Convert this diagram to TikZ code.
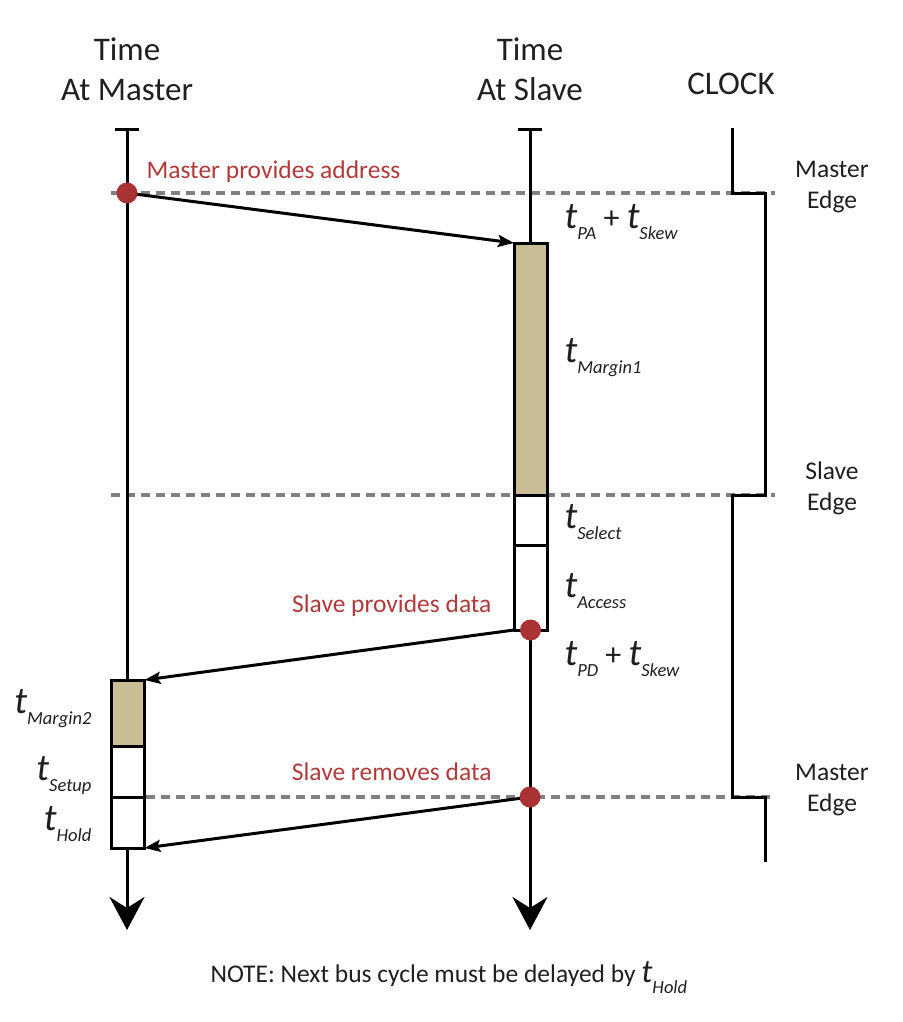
\documentclass[tikz,border=0pt]{standalone}
\usepackage{fontspec}
\setmainfont{Carlito}
\usetikzlibrary{arrows.meta,positioning}
\definecolor{sigred}{RGB}{176,58,58}
\definecolor{dotred}{RGB}{168,50,52}
\definecolor{margintan}{RGB}{201,189,149}
\definecolor{guidegray}{RGB}{128,128,128}
\newcommand{\tlab}[2][38]{{\fontsize{#1}{#1}\selectfont\itshape t}\raisebox{-11pt}{\fontsize{18.5}{18.5}\selectfont\itshape #2}}
\begin{document}
\begin{tikzpicture}[x=1pt,y=-1pt,
  every node/.style={text=black!88},
  timeline/.style={line width=3pt,{Bar[width=24pt]}-{Stealth[length=33pt,width=35pt,inset=11pt]}},
  sig/.style={line width=3pt,-{Stealth[length=16pt,width=12pt,inset=3pt]}},
  guide/.style={guidegray,line width=3.5pt,dash pattern=on 9pt off 6pt},
  slot/.style={draw,line width=3pt,fill=white,minimum width=33pt,inner sep=0pt,outer sep=0pt},
  tanslot/.style={slot,fill=margintan},
  evdot/.style={circle,fill=dotred,minimum size=21pt,inner sep=0pt},
  cue/.style={text=sigred,font=\fontsize{25.5}{30}\selectfont},
  edgelbl/.style={align=center,font=\fontsize{25.5}{31}\selectfont},
  title/.style={align=center,font=\fontsize{33}{40}\selectfont},
  tval/.style={font=\fontsize{32}{36}\selectfont}]
  \useasboundingbox (0,0) rectangle (902,1022);
  \draw[guide] (111,193) -- (775,193);
  \draw[guide] (111,495) -- (775,495);
  \draw[guide] (146,797) -- (775,797);
  \draw[line width=3pt] (732,128) -- (732,193) -- (765,193) -- (765,495)
    -- (732,495) -- (732,797) -- (765,797) -- (765,862);
  \coordinate (mtop) at (127,128);
  \coordinate (mend) at (127,930);
  \coordinate (stop) at (530,128);
  \coordinate (send) at (530,930);
  \draw[timeline] (mtop) -- (mend);
  \draw[timeline] (stop) -- (send);
  \node[tanslot,minimum height=252pt] (margin1) at (530.5,369) {};
  \node[slot,minimum height=50pt,below=0pt of margin1] (select) {};
  \node[slot,minimum height=85pt,below=0pt of select] (access) {};
  \node[tanslot,minimum height=66pt] (margin2) at (128,713) {};
  \node[slot,minimum height=51pt,below=0pt of margin2] (setup) {};
  \node[slot,minimum height=51pt,below=0pt of setup] (hold) {};
  \coordinate (addr) at (127,193);
  \coordinate (ready) at (access.south);
  \coordinate (remove) at (530,797);
  \draw[sig] (addr) -- (margin1.north west);
  \draw[sig] (access.south west) -- (margin2.north east);
  \draw[sig] (remove) -- (hold.south east);
  \node[evdot] (addrdot) at (addr) {};
  \node[evdot] (readydot) at (ready) {};
  \node[evdot] (removedot) at (remove) {};
  \node[title] (mtitle) at (127,69) {Time\\At Master};
  \node[title] (stitle) at (530,69) {Time\\At Slave};
  \node[title] (ctitle) at (731,84) {CLOCK};
  \node[edgelbl] (edge1) at (832,187) {Master\\Edge};
  \node[edgelbl] (edge2) at (832,488) {Slave\\Edge};
  \node[edgelbl] (edge3) at (832,790) {Master\\Edge};
  \node[cue,anchor=base west] (addrlbl) at (143,178) {Master provides address};
  \node[cue,anchor=base east] (readylbl) at (495,612) {Slave provides data};
  \node[cue,anchor=base east] (removelbl) at (495,780) {Slave removes data};
  \node[tval,anchor=base west] (tpa) at (561,228) {\tlab{PA} + \tlab{Skew}};
  \node[tval,anchor=base west] (tm1) at (561,362) {\tlab{Margin1}};
  \node[tval,anchor=base west] (tsel) at (561,528) {\tlab{Select}};
  \node[tval,anchor=base west] (tacc) at (561,597) {\tlab{Access}};
  \node[tval,anchor=base west] (tpd) at (561,665) {\tlab{PD} + \tlab{Skew}};
  \node[tval,anchor=base east] (tm2) at (95,713) {\tlab{Margin2}};
  \node[tval,anchor=base east] (tsu) at (95,780) {\tlab{Setup}};
  \node[tval,anchor=base east] (tho) at (95,830) {\tlab{Hold}};
  \node[anchor=base west,font=\fontsize{25.5}{30}\selectfont] (note) at (207,982)
    {NOTE: Next bus cycle must be delayed by \tlab[33]{Hold}};
\end{tikzpicture}
\end{document}
